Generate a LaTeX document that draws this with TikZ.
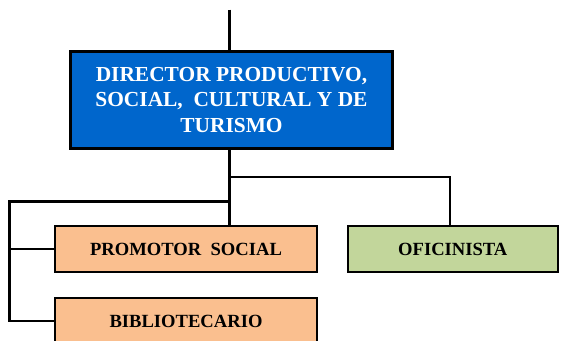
\documentclass[tikz,border=0pt]{standalone}
\usepackage{fontspec}
\setmainfont{Liberation Serif}
\definecolor{dirblue}{HTML}{0066CC}
\definecolor{peach}{HTML}{FABF8F}
\definecolor{olivelt}{HTML}{C2D69B}
\begin{document}
\begin{tikzpicture}[x=1pt,y=-1pt,
  box/.style={draw=black, line width=2pt, rectangle, inner sep=0pt, align=center,
    font=\bfseries\fontsize{18.6}{22}\selectfont},
  dirbox/.style={box, fill=dirblue, text=white, line width=2.6pt,
    font=\bfseries\fontsize{21.4}{25.2}\selectfont},
  conn/.style={draw=black, line width=2.1pt}]
\clip (0,0) rectangle (562,340);
\fill[white] (0,0) rectangle (562,340);
\node[dirbox, minimum width=322pt, minimum height=97pt] (dir) at (231.5,100)
  {DIRECTOR PRODUCTIVO,\\SOCIAL,\ \ CULTURAL Y DE\\TURISMO};
\node[box, fill=peach, minimum width=262pt, minimum height=46pt] (prom) at (186,249)
  {PROMOTOR\ \ SOCIAL};
\node[box, fill=peach, minimum width=262pt, minimum height=46pt] (bib) at (186,321)
  {BIBLIOTECARIO};
\node[box, fill=olivelt, minimum width=210pt, minimum height=46pt] (ofi) at (452.8,249)
  {OFICINISTA};
\coordinate (top) at (229.5,9.5);
\coordinate (j1) at (229.5,177);
\coordinate (j2) at (229.5,201.5);
\coordinate (o) at (450,177);
\coordinate (l) at (9.5,201.5);
\draw[conn, line width=2.8pt] (top) -- (top |- dir.north);
\draw[conn] (j1 |- dir.south) -- (j1 |- prom.north);
\draw[conn] (j1) -- (o) -- (o |- ofi.north);
\draw[conn] (j2) -- (l) |- (bib.west);
\draw[conn] (l |- prom.west) -- (prom.west);
\end{tikzpicture}
\end{document}
